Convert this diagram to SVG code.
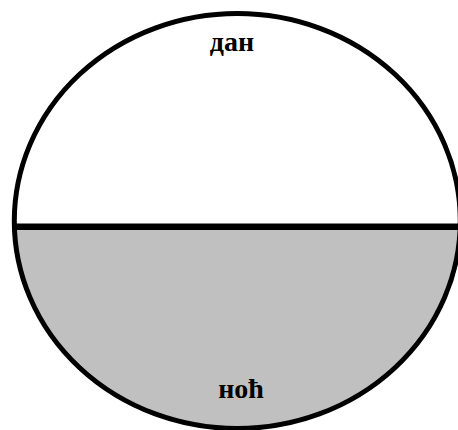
<svg xmlns="http://www.w3.org/2000/svg" width="458" height="430" viewBox="0 0 458 430">
<style>
.lbl{font-family:"Liberation Serif","Times New Roman",serif;font-weight:bold;font-size:28px;fill:#000;text-anchor:middle}
</style>
<defs>
<clipPath id="lower"><rect x="0" y="226.7" width="470" height="210"/></clipPath>
</defs>
<rect width="458" height="430" fill="#fff"/>
<g id="circle">
<ellipse cx="237.3" cy="221" rx="223" ry="207.5" fill="#fff"/>
<ellipse cx="237.3" cy="221" rx="223" ry="207.5" fill="#c0c0c0" clip-path="url(#lower)"/>
<line x1="15" y1="226.7" x2="470" y2="226.7" stroke="#000" stroke-width="6.5"/>
<ellipse cx="237.3" cy="221" rx="223" ry="207.5" fill="none" stroke="#000" stroke-width="5"/>
</g>
<g id="day"><text class="lbl" x="232" y="51">дан</text></g>
<g id="night"><text class="lbl" x="241" y="398">ноћ</text></g>
</svg>
